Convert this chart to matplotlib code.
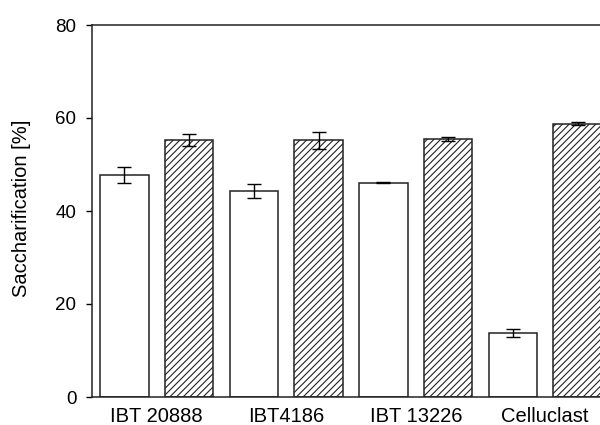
import matplotlib.pyplot as plt
import numpy as np

plt.rcParams["font.family"] = ["Liberation Sans", "DejaVu Sans"]
plt.rcParams["hatch.linewidth"] = 0.8

CATEGORIES = ["IBT 20888", "IBT4186", "IBT 13226", "Celluclast"]
PLAIN_VALUES = [47.7, 44.4, 46.1, 13.8]
PLAIN_ERRORS = [1.7, 1.5, 0.1, 0.9]
HATCHED_VALUES = [55.2, 55.2, 55.5, 58.8]
HATCHED_ERRORS = [1.3, 1.8, 0.4, 0.3]
Y_TICKS = [0, 20, 40, 60, 80]

BAR_WIDTH = 0.375
OFFSET = 0.25


def main():
    fig = plt.figure(figsize=(6.0, 4.25), dpi=100)
    ax = fig.add_axes([92 / 600, 28 / 425, 518 / 600, 372 / 425])

    x = np.arange(len(CATEGORIES))
    err_style = dict(ecolor="black", elinewidth=1.0, capsize=5, capthick=1.0)

    ax.bar(x - OFFSET, PLAIN_VALUES, BAR_WIDTH, yerr=PLAIN_ERRORS,
           color="white", edgecolor="#222222", linewidth=1.1,
           error_kw=err_style, zorder=2)
    ax.bar(x + OFFSET, HATCHED_VALUES, BAR_WIDTH, yerr=HATCHED_ERRORS,
           color="white", edgecolor="#222222", linewidth=1.1, hatch="/////",
           error_kw=err_style, zorder=2)

    ax.set_xlim(-0.5, 3.5)
    ax.set_ylim(0, 80)
    ax.set_yticks(Y_TICKS)
    ax.set_xticks(x)
    ax.set_xticklabels(CATEGORIES, fontsize=14.5)
    ax.tick_params(axis="y", labelsize=13.5, length=4.3, width=1.0,
                   direction="out", pad=7)
    ax.tick_params(axis="x", length=0, pad=7)

    fig.text(22 / 600, 1 - 208.5 / 425, "Saccharification [%]", fontsize=14.5,
             rotation=90, ha="center", va="center")

    for side in ["left", "bottom", "top", "right"]:
        ax.spines[side].set_linewidth(1.1)
        ax.spines[side].set_color("#222222")

    fig.savefig("out.png", dpi=100)


if __name__ == "__main__":
    main()
